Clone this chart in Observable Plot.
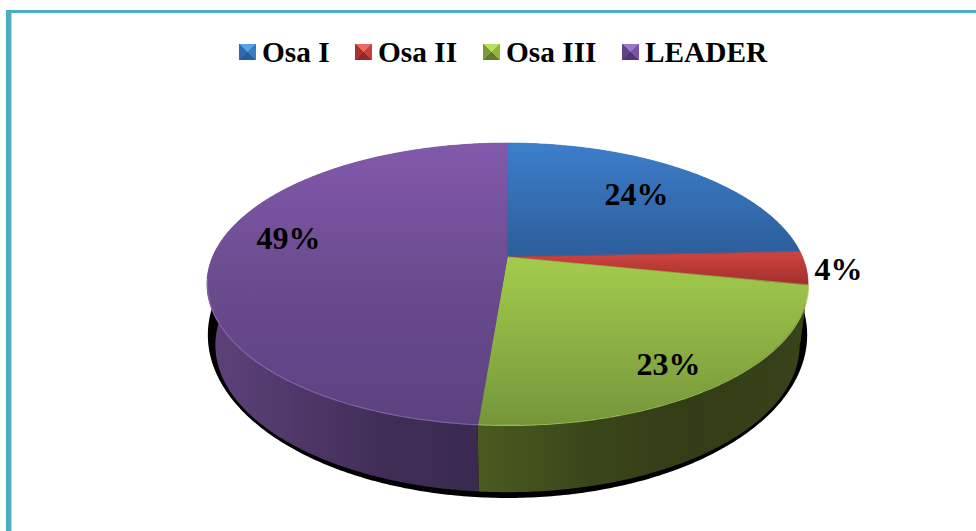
<!DOCTYPE html>
<html>
<head>
<meta charset="utf-8">
<script src="https://cdn.jsdelivr.net/npm/d3@7"></script>
<script src="https://cdn.jsdelivr.net/npm/@observablehq/plot@0.6"></script>
<style>
html,body{margin:0;padding:0;background:#fff;width:976px;height:531px;overflow:hidden}
#frame{position:absolute;left:6px;top:10px;right:0;bottom:0;border-left:5px solid #4bacc6;border-top:3px solid #4bacc6;box-shadow:inset 1px 0 0 #a8e0ee;pointer-events:none}
#legend{position:absolute;left:0;top:0;width:976px;height:80px;font:bold 22pt "Liberation Serif",serif;color:#000}
.item{position:absolute;top:34px;line-height:36px;white-space:nowrap}
.sw{position:absolute;top:10px;left:-23px;width:17px;height:16px}
#chart{position:absolute;left:0;top:80px}
</style>
</head>
<body>
<div id="legend"></div>
<div id="chart"></div>
<div id="frame"></div>
<script>
const categories = ["Osa I", "Osa II", "Osa III", "LEADER"];
const values = [24.4, 3.8, 23.1, 48.7];
const labels = ["24%", "4%", "23%", "49%"];
const topStops = [
  ["#3d7ecb", "#2c5f9c"],
  ["#cf4340", "#9f2f2d"],
  ["#a3cc4c", "#76963a"],
  ["#8259ab", "#6a4b8e", "#5c4180"]
];
const wallStops = [
  ["#2c5f9c", "#244f80"],
  ["#9f2f2d", "#7a2422"],
  ["#4b5b20", "#3a461a", "#323c16", "#38431a"],
  ["#5d4279", "#4e3768", "#402d56", "#3a2a4f"]
];
const rimColors = [null, null, "#a9cf5c", "#8d6db8"];
const swatch = [
  ["#5aa2e6", "#3a7cc4", "#2a5c96", "#2f6aae"],
  ["#ea6a66", "#c8403c", "#8e2a28", "#a83431"],
  ["#b8e060", "#90b53f", "#5f7a2a", "#7a9a34"],
  ["#9a78c8", "#7a52a6", "#4e3670", "#5f4385"]
];
const legendX = [262, 378, 506, 645];
const labelX = [636, 838, 668, 288];
const labelY = [194, 269, 364, 238];

// projection of the pie disc: a circle seen in perspective
const cx = 507.5, apexY = 257, k = 0.1915, f = 295, g = 135.8;
function P(t, opt = {}) {
  const {sx = 1, sy = 1, z = 0} = opt;
  const u = Math.sin(t), v = -Math.cos(t), w = 1 - k * v;
  return {x: cx + sx * f * u / w, y: apexY + sy * g * v / w + z};
}
const wallOpt = {sx: 0.972, sy: 1.043, z: 60};
const shadowOpt = {sx: 0.997, sy: 1.156, z: 46.8};

const total = d3.sum(values);
const slices = [];
values.reduce((acc, val, i) => {
  slices.push({i, a0: acc / total * 2 * Math.PI, a1: (acc + val) / total * 2 * Math.PI});
  return acc + val;
}, 0);
const arc = (a0, a1) => {
  const n = Math.max(2, Math.ceil((a1 - a0) * 90));
  return d3.range(n + 1).map(j => a0 + (a1 - a0) * j / n);
};

const defs = () => {
  const d = d3.create("svg:defs");
  const grad = (id, attrs, cols) => {
    const lg = d.append("linearGradient").attr("id", id).attr("gradientUnits", "userSpaceOnUse");
    for (const [a, b] of Object.entries(attrs)) lg.attr(a, b);
    cols.forEach((c, j) => lg.append("stop").attr("offset", j / Math.max(1, cols.length - 1)).attr("stop-color", c));
  };
  const ya = y => y - 80;
  grad("t0", {x1: 0, x2: 0, y1: ya(143), y2: ya(252)}, topStops[0]);
  grad("t1", {x1: 0, x2: 0, y1: ya(252), y2: ya(286)}, topStops[1]);
  grad("t2", {x1: 0, x2: 0, y1: ya(257), y2: ya(425)}, topStops[2]);
  grad("t3", {x1: 0, x2: 0, y1: ya(143), y2: ya(425)}, topStops[3]);
  grad("w2", {x1: 479, x2: 804, y1: 0, y2: 0}, wallStops[2]);
  grad("w3", {x1: 212, x2: 479, y1: 0, y2: 0}, wallStops[3]);
  grad("w0", {x1: 500, x2: 800, y1: 0, y2: 0}, wallStops[0]);
  grad("w1", {x1: 790, x2: 810, y1: 0, y2: 0}, wallStops[1]);
  return d.node();
};

const marks = [defs];
// shadow under the disc
const shadowPts = arc(0, 2 * Math.PI).map(t => P(t, shadowOpt));
marks.push(Plot.area(shadowPts, {x1: () => cx, y1: () => apexY + 60, x2: "x", y2: "y", fill: "#000", curve: "linear"}));
// side walls
for (const s of slices) {
  const pts = arc(s.a0, s.a1).map(t => {
    const a = P(t), b = P(t, wallOpt);
    return {x1: a.x, y1: a.y, x2: b.x, y2: b.y};
  });
  marks.push(Plot.area(pts, {x1: "x1", y1: "y1", x2: "x2", y2: "y2", fill: `url(#w${s.i})`, curve: "linear"}));
}
// top surface
for (const s of slices) {
  const pts = arc(s.a0, s.a1).map(t => P(t));
  marks.push(Plot.area(pts, {x1: () => cx, y1: () => apexY, x2: "x", y2: "y", fill: `url(#t${s.i})`, stroke: `url(#t${s.i})`, strokeWidth: 0.6, curve: "linear"}));
}
// soft light rim on the front edge only
for (const s of slices) {
  if (!rimColors[s.i]) continue;
  const a0 = Math.max(s.a0, Math.PI * 0.55), a1 = Math.min(s.a1, Math.PI * 1.45);
  marks.push(Plot.line(arc(a0, a1).map(t => P(t)), {x: "x", y: "y", stroke: rimColors[s.i], strokeWidth: 1.2, strokeOpacity: 0.8, curve: "linear"}));
}
// value labels
marks.push(Plot.text(labels, {
  x: (d, i) => labelX[i],
  y: (d, i) => labelY[i],
  text: d => d,
  fill: "#000",
  fontSize: "24pt",
  fontWeight: "bold",
  fontFamily: "Liberation Serif",
  textAnchor: "middle",
  lineAnchor: "middle"
}));

const chart = Plot.plot({
  width: 976,
  height: 451,
  margin: 0,
  style: {background: "transparent", overflow: "visible"},
  x: {domain: [0, 976], range: [0, 976], axis: null},
  y: {domain: [80, 531], range: [0, 451], axis: null},
  marks
});
document.getElementById("chart").appendChild(chart);

// legend
const legend = d3.select("#legend");
categories.forEach((c, i) => {
  const [t, r, b, l] = swatch[i];
  const it = legend.append("div").attr("class", "item").style("left", legendX[i] + "px").text(c);
  it.append("span").attr("class", "sw")
    .style("background", `conic-gradient(from 45deg, ${r} 0 25%, ${b} 0 50%, ${l} 0 75%, ${t} 0 100%)`);
});
</script>
</body>
</html>
